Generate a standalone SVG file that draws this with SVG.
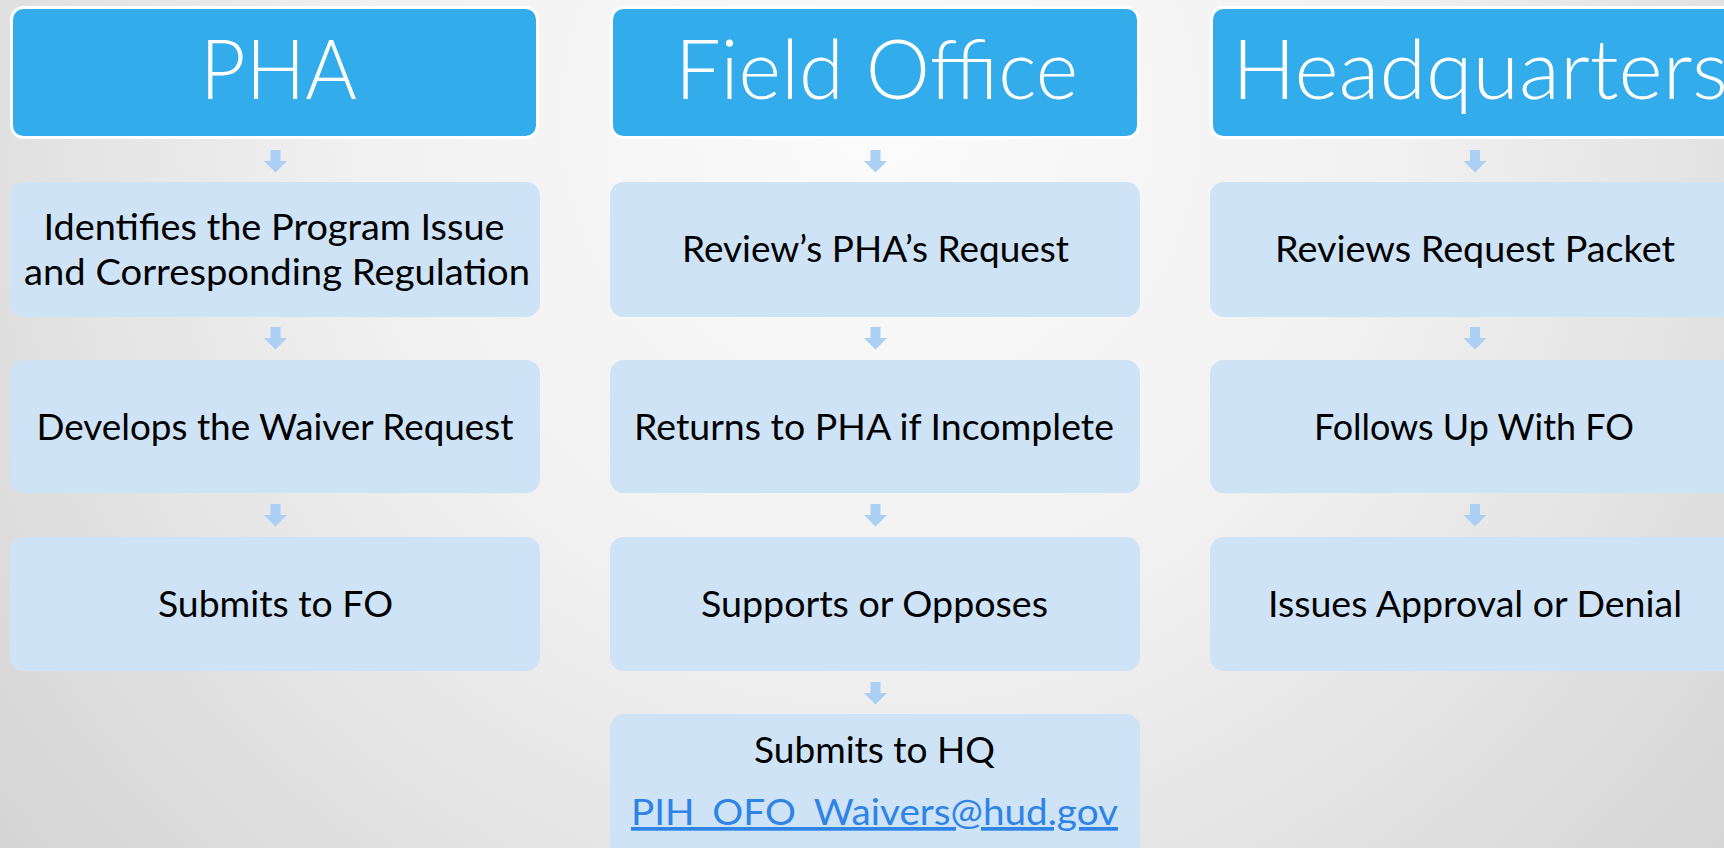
<svg xmlns="http://www.w3.org/2000/svg" xmlns:xlink="http://www.w3.org/1999/xlink" width="1724" height="848" viewBox="0 0 1724 848">
  <defs>
    <radialGradient id="bg" cx="880" cy="120" r="1150" gradientUnits="userSpaceOnUse">
      <stop offset="0" stop-color="#FBFBFB"/>
      <stop offset="0.45" stop-color="#F1F1F1"/>
      <stop offset="1" stop-color="#D4D4D4"/>
    </radialGradient>
    <path id="arrow" d="M-5,0 H5 V11 H11.5 L0,22.5 L-11.5,11 H-5 Z"/>
  </defs>
  <style>
    .hdr { fill: #32ACEA; stroke: #FFFFFF; stroke-width: 3; }
    .hdrText { font-family: Lato, "Open Sans", "Liberation Sans", sans-serif; font-weight: 300; font-size: 82px; fill: #FFFFFF; }
    .box { fill: #CFE3F6; }
    .txt { font-family: Lato, "Open Sans", "Liberation Sans", sans-serif; font-size: 37px; fill: #000000; text-anchor: middle; }
    .link { fill: #2E83E6; text-decoration: underline; }
    .arr { fill: #ABD0F3; }
  </style>
  <rect width="1724" height="848" fill="url(#bg)"/>

  <g id="connectors" class="arr">
    <use xlink:href="#arrow" x="275.5" y="150"/>
    <use xlink:href="#arrow" x="275.5" y="327"/>
    <use xlink:href="#arrow" x="275.5" y="504"/>
    <use xlink:href="#arrow" x="875.5" y="150"/>
    <use xlink:href="#arrow" x="875.5" y="327"/>
    <use xlink:href="#arrow" x="875.5" y="504"/>
    <use xlink:href="#arrow" x="875.5" y="682"/>
    <use xlink:href="#arrow" x="1475" y="150"/>
    <use xlink:href="#arrow" x="1475" y="327"/>
    <use xlink:href="#arrow" x="1475" y="504"/>
  </g>

  <g id="hdr-pha">
    <rect class="hdr" x="11.5" y="7.5" width="526" height="130" rx="12"/>
    <text class="hdrText" x="278.5" y="99" text-anchor="middle" textLength="157" lengthAdjust="spacingAndGlyphs">PHA</text>
  </g>
  <g id="hdr-fo">
    <rect class="hdr" x="611.5" y="7.5" width="527" height="130" rx="12"/>
    <text class="hdrText" x="876.5" y="99" text-anchor="middle" textLength="403" lengthAdjust="spacingAndGlyphs">Field Office</text>
  </g>
  <g id="hdr-hq">
    <rect class="hdr" x="1211.5" y="7.5" width="530" height="130" rx="12"/>
    <text class="hdrText" x="1232" y="99" textLength="496" lengthAdjust="spacingAndGlyphs">Headquarters</text>
  </g>

  <g id="pha-1">
    <rect class="box" x="10" y="182" width="530" height="135" rx="14"/>
    <text class="txt" x="274" y="240" textLength="461" lengthAdjust="spacingAndGlyphs">Identifies the Program Issue</text>
    <text class="txt" x="277" y="285" textLength="506" lengthAdjust="spacingAndGlyphs">and Corresponding Regulation</text>
  </g>
  <g id="pha-2">
    <rect class="box" x="10" y="360" width="530" height="133" rx="14"/>
    <text class="txt" x="275" y="440" textLength="477" lengthAdjust="spacingAndGlyphs">Develops the Waiver Request</text>
  </g>
  <g id="pha-3">
    <rect class="box" x="10" y="537" width="530" height="134" rx="14"/>
    <text class="txt" x="275.5" y="617" textLength="235" lengthAdjust="spacingAndGlyphs">Submits to FO</text>
  </g>

  <g id="fo-1">
    <rect class="box" x="610" y="182" width="530" height="135" rx="14"/>
    <text class="txt" x="875.5" y="262" textLength="387" lengthAdjust="spacingAndGlyphs">Review’s PHA’s Request</text>
  </g>
  <g id="fo-2">
    <rect class="box" x="610" y="360" width="530" height="133" rx="14"/>
    <text class="txt" x="874" y="440" textLength="480" lengthAdjust="spacingAndGlyphs">Returns to PHA if Incomplete</text>
  </g>
  <g id="fo-3">
    <rect class="box" x="610" y="537" width="530" height="134" rx="14"/>
    <text class="txt" x="874.5" y="617" textLength="347" lengthAdjust="spacingAndGlyphs">Supports or Opposes</text>
  </g>
  <g id="fo-4">
    <rect class="box" x="610" y="714" width="530" height="150" rx="14"/>
    <text class="txt" x="874.5" y="763" textLength="241" lengthAdjust="spacingAndGlyphs">Submits to HQ</text>
    <text class="txt link" x="874.5" y="825" textLength="487" lengthAdjust="spacingAndGlyphs">PIH_OFO_Waivers@hud.gov</text>
  </g>

  <g id="hq-1">
    <rect class="box" x="1210" y="182" width="530" height="135" rx="14"/>
    <text class="txt" x="1475" y="262" textLength="400" lengthAdjust="spacingAndGlyphs">Reviews Request Packet</text>
  </g>
  <g id="hq-2">
    <rect class="box" x="1210" y="360" width="530" height="133" rx="14"/>
    <text class="txt" x="1474" y="440" textLength="320" lengthAdjust="spacingAndGlyphs">Follows Up With FO</text>
  </g>
  <g id="hq-3">
    <rect class="box" x="1210" y="537" width="530" height="134" rx="14"/>
    <text class="txt" x="1475" y="617" textLength="414" lengthAdjust="spacingAndGlyphs">Issues Approval or Denial</text>
  </g>
</svg>
